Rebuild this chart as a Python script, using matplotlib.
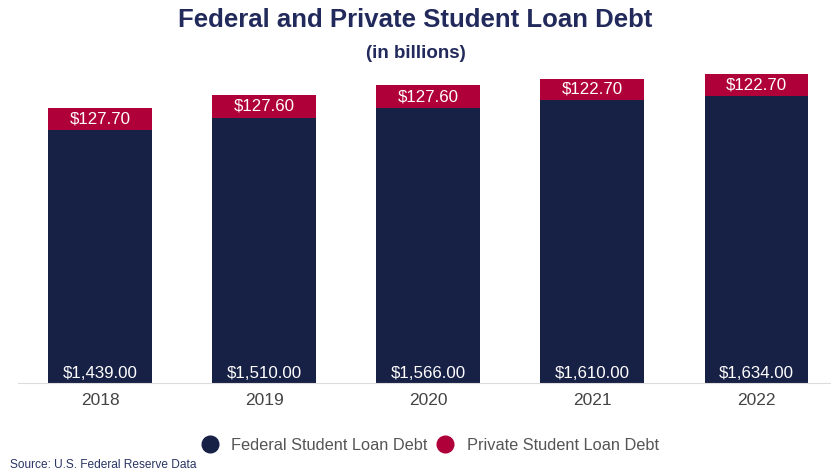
import matplotlib.pyplot as plt
import numpy as np

# Data (billions)
years = ['2018', '2019', '2020', '2021', '2022']
federal = [1439.00, 1510.00, 1566.00, 1610.00, 1634.00]
private = [127.70, 127.60, 127.60, 122.70, 122.70]

navy = '#172045'
crimson = '#B0003A'

plt.rcParams['font.family'] = ['Liberation Sans', 'DejaVu Sans']

fig = plt.figure(figsize=(8.31, 4.74), dpi=100)
ax = fig.add_axes([18 / 831, 1 - 383 / 474, 812 / 831, 323 / 474])

x = np.arange(len(years))
width = 0.63
ax.bar(x, federal, width, color=navy, label='Federal Student Loan Debt')
ax.bar(x, private, width, bottom=federal, color=crimson, label='Private Student Loan Debt')

for i in range(len(years)):
    ax.text(x[i], 12, f'${federal[i]:,.2f}', ha='center', va='bottom',
            color='white', fontsize=12.2)
    ax.text(x[i], federal[i] + private[i] / 2, f'${private[i]:,.2f}', ha='center',
            va='center', color='white', fontsize=12.2)

ax.set_xlim(-0.5, 4.45)
ax.set_ylim(0, 1838)
ax.set_xticks(x)
ax.set_xticklabels(years, fontsize=12.5, color='#444444')
ax.tick_params(axis='x', length=0, pad=7)
ax.set_yticks([])
for s in ['top', 'right', 'left']:
    ax.spines[s].set_visible(False)
ax.spines['bottom'].set_color('#dddddd')

fig.text(0.5, 1 - 20 / 474, 'Federal and Private Student Loan Debt', ha='center', va='center',
         fontsize=18.5, fontweight='bold', color='#222a5c')
fig.text(0.5, 1 - 53 / 474, '(in billions)', ha='center', va='center',
         fontsize=13.5, fontweight='bold', color='#222a5c')

handles = [plt.Line2D([], [], marker='o', linestyle='', markersize=12, color=c) for c in (navy, crimson)]
fig.legend(handles, ['Federal Student Loan Debt', 'Private Student Loan Debt'], loc='center',
           bbox_to_anchor=(426 / 831, 1 - 445 / 474), ncol=2, frameon=False, fontsize=11.8,
           handletextpad=0.3, columnspacing=0.1, labelcolor='#555555')

fig.text(10 / 831, 1 - 465 / 474, 'Source: U.S. Federal Reserve Data', ha='left', va='center',
         fontsize=8.6, color='#2a3563')

plt.savefig('out.png', dpi=100)
